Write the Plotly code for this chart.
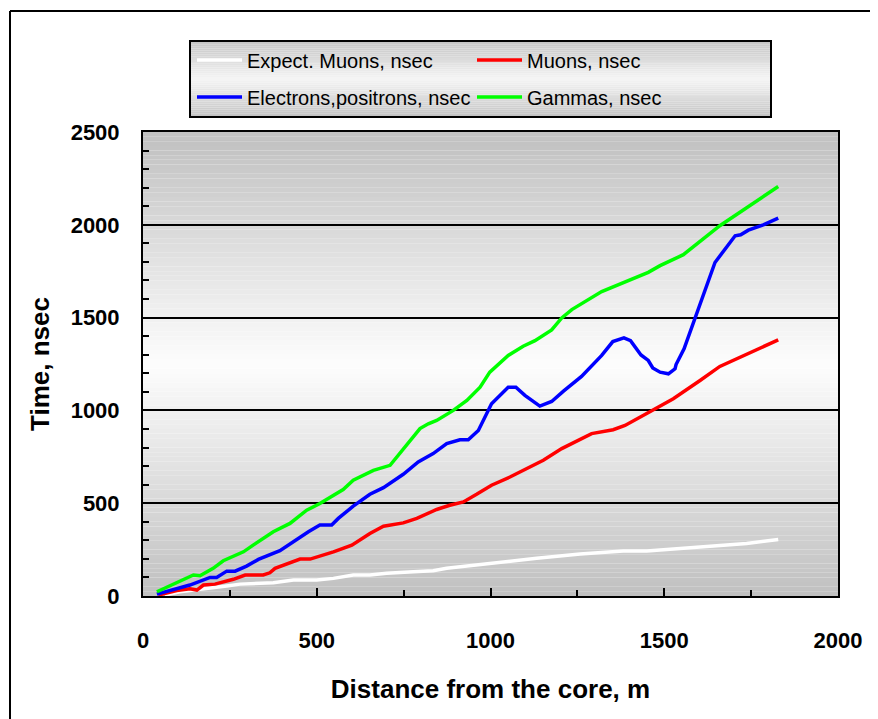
import plotly.graph_objects as go

# ---------------- data ----------------
series_names = ["Expect. Muons, nsec", "Muons, nsec", "Electrons,positrons, nsec", "Gammas, nsec"]

white_x = [63, 106, 164, 193, 241, 279, 327, 375, 433, 500, 548, 605, 653, 701, 778, 835, 874, 932, 970,
           1047, 1133, 1258, 1382, 1450, 1545, 1737, 1828]
white_y = [5, 23, 36, 41, 54, 64, 68, 72, 86, 86, 95, 113, 113, 122, 131, 136, 149, 161, 172,
           185, 203, 226, 242, 242, 256, 283, 305]

red_x = [44, 97, 135, 155, 174, 207, 260, 294, 346, 365, 380, 423, 452, 481, 509, 548, 601, 653, 692,
         749, 788, 845, 883, 922, 960, 1003, 1056, 1152, 1205, 1258, 1291, 1353, 1387, 1469, 1526, 1603,
         1660, 1828]
red_y = [5, 29, 39, 32, 59, 64, 90, 113, 113, 125, 149, 179, 199, 199, 215, 238, 274, 337, 376,
         394, 418, 466, 489, 507, 548, 597, 641, 731, 794, 842, 875, 896, 919, 1004, 1063, 1161,
         1237, 1380]

blue_x = [40, 87, 135, 193, 212, 241, 265, 298, 332, 394, 414, 476, 509, 543, 562, 605, 653, 692, 749,
          792, 835, 874, 912, 936, 965, 989, 1003, 1051, 1073, 1099, 1142, 1176, 1210, 1262, 1291, 1320,
          1352, 1384, 1403, 1433, 1454, 1467, 1488, 1512, 1531, 1534, 1557, 1579, 1646, 1704, 1720,
          1742, 1785, 1828]
blue_y = [10, 36, 59, 100, 100, 134, 134, 161, 197, 244, 269, 346, 382, 382, 418, 484, 548, 584, 656,
          722, 767, 821, 842, 842, 892, 982, 1036, 1125, 1125, 1081, 1023, 1048, 1104, 1183, 1242, 1296,
          1371, 1391, 1376, 1299, 1269, 1229, 1206, 1197, 1224, 1247, 1332, 1448, 1797, 1941, 1946,
          1971, 2000, 2036]

green_x = [40, 83, 145, 164, 202, 231, 289, 317, 375, 423, 471, 509, 576, 605, 663, 711, 797, 821, 845,
           893, 932, 970, 998, 1051, 1094, 1128, 1176, 1205, 1234, 1320, 1382, 1454, 1488, 1555, 1660,
           1828]
green_y = [23, 59, 113, 109, 149, 190, 238, 274, 346, 391, 462, 498, 574, 624, 677, 704, 902, 928, 946,
           1000, 1054, 1125, 1206, 1296, 1346, 1376, 1434, 1498, 1543, 1640, 1690, 1744, 1780, 1839, 1995,
           2206]

x_tick_vals = [0, 500, 1000, 1500, 2000]
y_tick_vals = [0, 500, 1000, 1500, 2000, 2500]

# ---------------- figure ----------------
FONT = "Liberation Sans, Arial, sans-serif"
W, H = 878, 719
OFF = 8  # page body margin in the browser
PL, PR, PT, PB = 143, 838, 132, 596  # target plot area in screenshot pixels
ML, MT = PL - OFF, PT - OFF
PW, PH = PR - PL, PB - PT
MR = W - ML - PW
MB = H - MT - PH

def px2paper_x(px):
    return (px - PL) / PW

def px2paper_y(py):
    return (PB - py) / PH

fig = go.Figure()

colors = ["#ffffff", "#ff0000", "#0000ff", "#00ff00"]
xs = [white_x, red_x, blue_x, green_x]
ys = [white_y, red_y, blue_y, green_y]
legends = ["legend", "legend", "legend2", "legend2"]
for name, c, x, y, lg in zip(series_names, colors, xs, ys, legends):
    fig.add_trace(go.Scatter(x=x, y=y, mode="lines", name=name, legend=lg,
                             line=dict(color=c, width=3.5)))

shapes = []
# plot-area gradient (gray - white - gray)
steps = 100
ymax = 2500.0
for i in range(steps):
    v0 = ymax * i / steps
    v1 = ymax * (i + 1) / steps
    mid = (v0 + v1) / 2
    d = abs(mid - ymax / 2) / (ymax / 2)
    g = int(round(253 - 61 * d))
    shapes.append(dict(type="rect", xref="paper", yref="y", x0=0, x1=1, y0=v0, y1=v1,
                       fillcolor=f"rgb({g},{g},{g})", line=dict(width=0), layer="below"))

# legend box gradient
lx0, lx1, ly0, ly1 = px2paper_x(190), px2paper_x(771), px2paper_y(117), px2paper_y(41)
lsteps = 40
for i in range(lsteps):
    a0 = ly0 + (ly1 - ly0) * i / lsteps
    a1 = ly0 + (ly1 - ly0) * (i + 1) / lsteps
    t = (i + 0.5) / lsteps
    d = abs(t - 0.5) * 2
    g = int(round(245 - 50 * d))
    shapes.append(dict(type="rect", xref="paper", yref="paper", x0=lx0, x1=lx1, y0=a0, y1=a1,
                       fillcolor=f"rgb({g},{g},{g})", line=dict(width=0), layer="below"))
shapes.append(dict(type="rect", xref="paper", yref="paper", x0=lx0, x1=lx1, y0=ly0, y1=ly1,
                   line=dict(color="black", width=2), fillcolor="rgba(0,0,0,0)", layer="below"))

# outer frame
shapes.append(dict(type="line", xref="paper", yref="paper", x0=px2paper_x(10), x1=px2paper_x(900),
                   y0=px2paper_y(11), y1=px2paper_y(11), line=dict(color="black", width=2)))
shapes.append(dict(type="line", xref="paper", yref="paper", x0=px2paper_x(10), x1=px2paper_x(10),
                   y0=px2paper_y(11), y1=px2paper_y(740), line=dict(color="black", width=2)))

legend_common = dict(orientation="h", bgcolor="rgba(0,0,0,0)", borderwidth=0,
                     font=dict(family=FONT, size=20, color="black"),
                     entrywidth=220, entrywidthmode="pixels", itemwidth=45,
                     xanchor="left", yanchor="middle", x=px2paper_x(192))

fig.update_layout(
    width=W, height=H,
    margin=dict(l=ML, r=MR, t=MT, b=MB, autoexpand=False),
    paper_bgcolor="white",
    plot_bgcolor="rgba(0,0,0,0)",
    shapes=shapes,
    legend=dict(**legend_common, y=px2paper_y(60)),
    legend2=dict(**legend_common, y=px2paper_y(97)),
    xaxis=dict(range=[0, 2000], tickvals=x_tick_vals, showgrid=False, zeroline=False,
               showline=True, mirror=True, linecolor="black", linewidth=2,
               ticks="inside", ticklen=8, tickwidth=2, tickcolor="black",
               minor=dict(dtick=250, ticks="inside", ticklen=6, tickwidth=2, tickcolor="black", showgrid=False),
               tickfont=dict(family=FONT, size=22, color="black", weight="bold"),
               ticklabelstandoff=24,
               title=dict(text="<b>Distance from the core, m</b>", standoff=27,
                          font=dict(family=FONT, size=26, color="black"))),
    yaxis=dict(range=[0, 2500], tickvals=y_tick_vals, showgrid=True, gridcolor="black", gridwidth=1.5,
               zeroline=False, showline=True, mirror=True, linecolor="black", linewidth=2,
               ticks="inside", ticklen=6, tickwidth=2, tickcolor="black",
               minor=dict(dtick=100, ticks="inside", ticklen=6, tickwidth=1.5, tickcolor="black", showgrid=False),
               tickfont=dict(family=FONT, size=22, color="black", weight="bold"),
               ticklabelstandoff=17,
               title=dict(text="<b>Time, nsec</b>", standoff=14,
                          font=dict(family=FONT, size=26, color="black"))),
    showlegend=True,
)

fig.write_html("out.html")
